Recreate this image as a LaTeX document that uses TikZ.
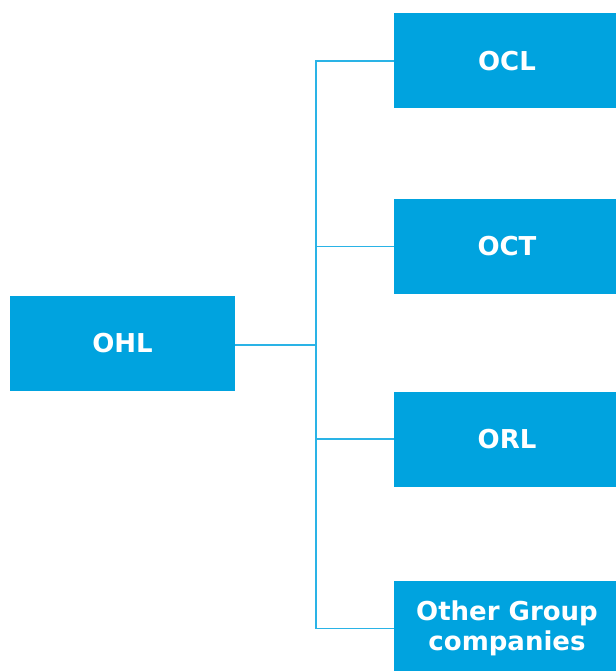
\documentclass[tikz,border=0pt]{standalone}
\usepackage{fontspec}
\setmainfont{DejaVu Sans}
\definecolor{boxblue}{HTML}{00A3DF}
\definecolor{lineblue}{HTML}{2AB3E6}
\begin{document}
\begin{tikzpicture}[x=1pt,y=-1pt,
  entity/.style={fill=boxblue,draw=none,minimum height=95pt,text=white,
    font=\bfseries\fontsize{26}{30}\selectfont,align=center,inner sep=0pt},
  link/.style={draw=lineblue,line width=1.3pt}]
\useasboundingbox (0,0) rectangle (615,671);
\node[entity,minimum width=225pt] (ohl) at (122.5,343.5) {OHL};
\node[entity,minimum width=226pt] (ocl) at (507,61) {OCL};
\node[entity,minimum width=226pt] (oct) at (507,246.5) {OCT};
\node[entity,minimum width=226pt] (orl) at (507,439) {ORL};
\node[entity,minimum width=226pt] (ogc) at (507,628.5) {Other Group\\companies};
\coordinate (bus) at (316,345);
\draw[link] (ohl.east |- bus) -- (bus);
\draw[link] (ocl.west) -| (bus);
\draw[link] (ogc.west) -| (bus);
\draw[link] (oct.west) -- (oct.west -| bus);
\draw[link] (orl.west) -- (orl.west -| bus);
\end{tikzpicture}
\end{document}
